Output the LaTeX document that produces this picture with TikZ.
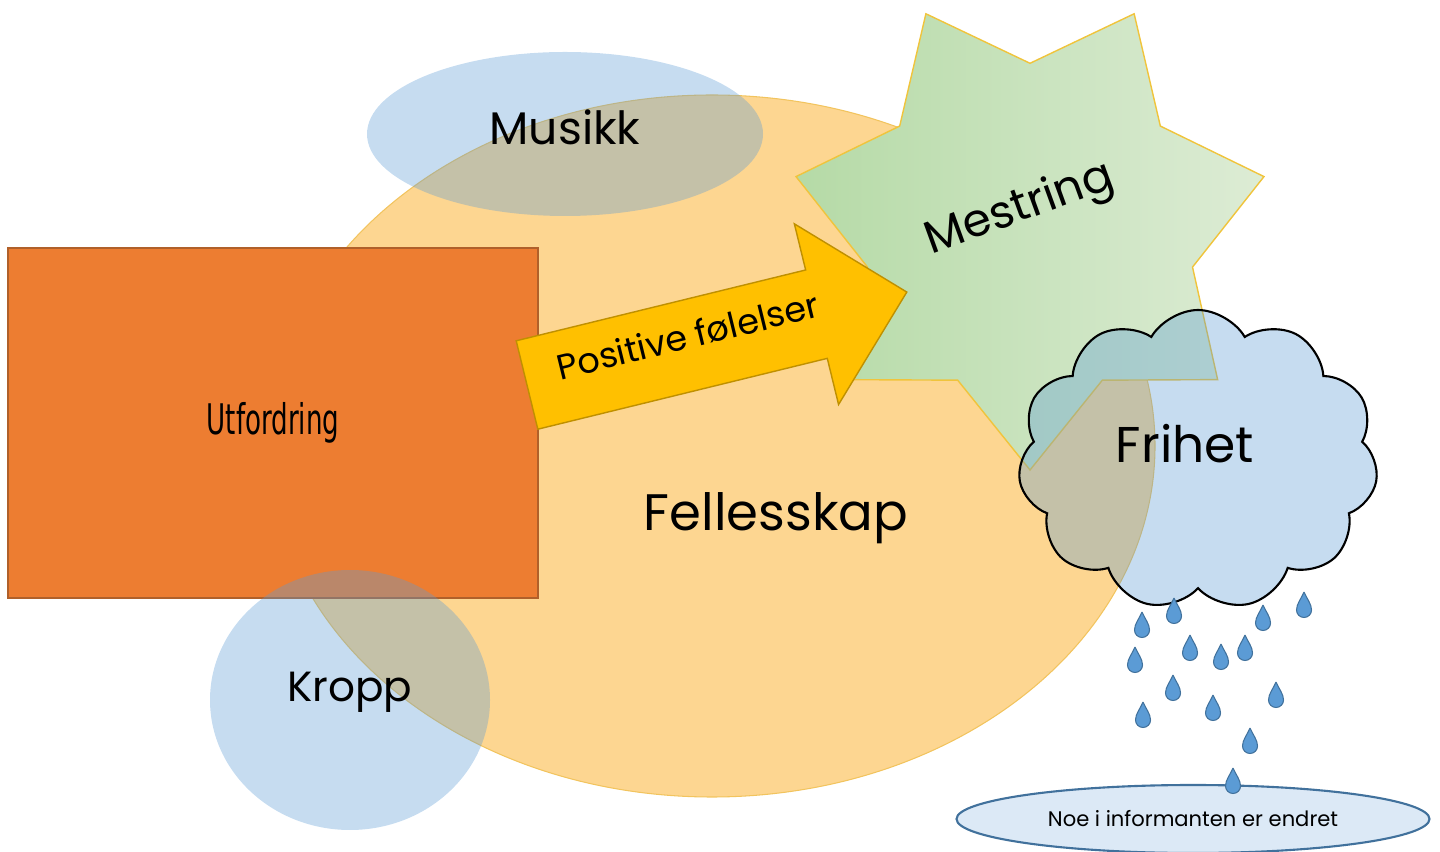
\documentclass[tikz,border=0pt]{standalone}
\usepackage{fontspec}
\setmainfont{Poppins}
\newfontfamily\narrowfont[FakeStretch=0.62]{DejaVu Sans}
\usetikzlibrary{shapes.geometric,shapes.symbols,positioning}

\definecolor{fellesfill}{HTML}{FDD691}
\definecolor{fellesline}{HTML}{F2C45E}
\definecolor{blobblue}{HTML}{5B9BD5}
\definecolor{dropline}{HTML}{41719C}
\definecolor{utforange}{HTML}{ED7D31}
\definecolor{utfline}{HTML}{B0602A}
\definecolor{arrowgold}{HTML}{FFC000}
\definecolor{arrowline}{HTML}{BF9000}
\definecolor{stargreenA}{HTML}{B5DAA6}
\definecolor{stargreenB}{HTML}{DDECD5}
\definecolor{starline}{HTML}{F0C43C}
\definecolor{puddlefill}{HTML}{DCE9F6}

\begin{document}
\begin{tikzpicture}[x=0.1mm, y=-0.1mm,
  blob/.style={ellipse, fill=blobblue, fill opacity=0.35, text opacity=1,
               inner sep=0pt},
  bigtext/.style={font=\fontsize{13}{15}\selectfont, text=black},
  pics/raindrop/.style={code={
    \fill[blobblue, draw=dropline, line width=0.3pt]
      (0,-15) .. controls (3,-8) and (7.5,-3) .. (7.5,3)
      arc (0:180:7.5) .. controls (-7.5,-3) and (-3,-8) .. (0,-15);
  }}
]
\useasboundingbox (0,0) rectangle (1440,852);

% community in the back
\node[ellipse, fill=fellesfill, draw=fellesline, line width=0.3pt,
      minimum width=88.6mm, minimum height=70.2mm] (felles) at (712,446) {};

\node[blob, minimum width=39.6mm, minimum height=16.4mm] (musikk) at (565,134) {};

\node[rectangle, fill=utforange, draw=utfline, line width=0.4pt,
      minimum width=53mm, minimum height=35mm,
      font=\narrowfont\fontsize{12}{14}\selectfont] (utf) at (273,423) {Utfordring};

\node[blob, minimum width=28mm, minimum height=26mm] (kropp) at (350,700) {};

\node[star, star points=7, star point ratio=1.44, shape border rotate=180,
      minimum size=48mm, inner sep=0pt, left color=stargreenA,
      right color=stargreenB, draw=starline, line width=0.4pt] (mestring) at (1030,230) {};

% block arrow from the challenge to mastery
\begin{scope}[shift={(527,385)}, rotate=13.75]
  \filldraw[fill=arrowgold, draw=arrowline, line width=0.4pt]
    (0,-45.5) -- (298,-45.5) -- (298,-93) -- (391,0) -- (298,93)
    -- (298,45.5) -- (0,45.5) -- cycle;
  \node[rotate=13.75, font=\fontsize{10}{12}\selectfont] (pos) at (168,-10) {Positive følelser};
\end{scope}

\node[cloud, cloud puffs=11, cloud puff arc=120, aspect=1.2,
      fill=blobblue, fill opacity=0.35, draw=black, draw opacity=1, line width=0.6pt,
      minimum width=36mm, minimum height=30mm] (frihet) at (1198,460) {};

% raindrops
\foreach \dx/\dy in {1142/627, 1174/613, 1263/620, 1304/607, 1135/662, 1190/650,
                     1221/659, 1245/650, 1173/690, 1213/710, 1276/697, 1143/717,
                     1250/743}
  \pic at (\dx,\dy) {raindrop};

\node[ellipse, fill=puddlefill, draw=dropline, line width=0.6pt,
      minimum width=47.3mm, minimum height=6.8mm, inner sep=0pt,
      font=\fontsize{6}{7}\selectfont] (endret) at (1193,819) {Noe i informanten er endret};
\pic at (1233,783) {raindrop};

% labels
\node[bigtext] at (565,127) {Musikk};
\node[bigtext, font=\fontsize{12}{14}\selectfont] at (350,692) {Kropp};
\node[bigtext, font=\fontsize{14.6}{17}\selectfont] at (776,518) {Fellesskap};
\node[bigtext, rotate=20] at (1020,210) {Mestring};
\node[bigtext, font=\fontsize{14.3}{16}\selectfont] at (1185,444) {Frihet};
\end{tikzpicture}
\end{document}
